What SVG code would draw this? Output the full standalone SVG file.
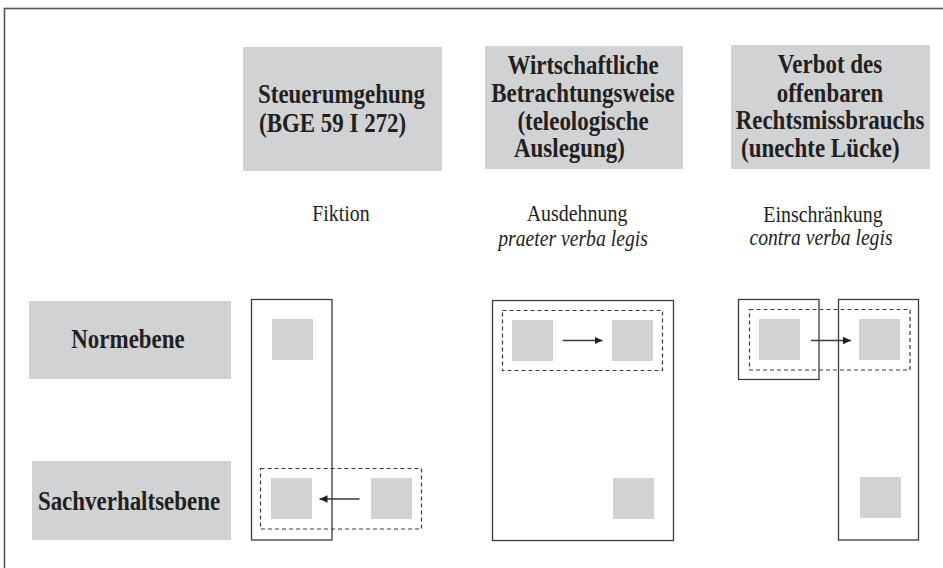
<svg xmlns="http://www.w3.org/2000/svg" width="943" height="568" viewBox="0 0 943 568">
  <style>
    text { font-family: "Liberation Serif", "Times New Roman", serif; fill: #231f20; }
    .h { font-size: 27px; font-weight: bold; }
    .s { font-size: 24px; }
    .i { font-size: 24px; font-style: italic; }
    .c { text-anchor: middle; }
    .box { fill: #d1d2d4; }
    .frame { fill: none; stroke: #3a3a3a; stroke-width: 1.3; }
    .dash { fill: none; stroke: #3a3a3a; stroke-width: 1.2; stroke-dasharray: 4 3; }
    .conn { stroke: #3a3a3a; stroke-width: 1.3; fill: none; marker-end: url(#ah); }
  </style>
  <defs>
    <marker id="ah" viewBox="0 0 8 8" refX="8" refY="4" markerWidth="8" markerHeight="8" markerUnits="userSpaceOnUse" orient="auto">
      <path d="M0,0.3 L8,4 L0,7.7 Z" fill="#231f20"/>
    </marker>
  </defs>
  <rect width="943" height="568" fill="#ffffff"/>
  <rect x="4.5" y="8.5" width="960" height="600" fill="none" stroke="#555" stroke-width="1.6"/>

  <g id="head-steuerumgehung">
    <rect class="box" x="243" y="47" width="199" height="124"/>
    <text class="h" transform="matrix(0.85 0 0 1 258 103)">Steuerumgehung</text>
    <text class="h" transform="matrix(0.85 0 0 1 259 132)">(BGE 59 I 272)</text>
  </g>
  <g id="head-wirtschaftlich">
    <rect class="box" x="485" y="46" width="198" height="123"/>
    <text class="h c" transform="matrix(0.85 0 0 1 583 74)">Wirtschaftliche</text>
    <text class="h c" transform="matrix(0.85 0 0 1 583 102)">Betrachtungsweise</text>
    <text class="h c" transform="matrix(0.85 0 0 1 583 130)">(teleologische</text>
    <text class="h" transform="matrix(0.85 0 0 1 514 157)">Auslegung)</text>
  </g>
  <g id="head-verbot">
    <rect class="box" x="731" y="45" width="199" height="124"/>
    <text class="h c" transform="matrix(0.85 0 0 1 830 73)">Verbot des</text>
    <text class="h c" transform="matrix(0.85 0 0 1 830 102)">offenbaren</text>
    <text class="h c" transform="matrix(0.85 0 0 1 830 129)">Rechtsmissbrauchs</text>
    <text class="h" transform="matrix(0.85 0 0 1 741 157)">(unechte Lücke)</text>
  </g>

  <g id="sub-fiktion">
    <text class="s c" transform="matrix(0.83 0 0 1 341 221)">Fiktion</text>
  </g>
  <g id="sub-ausdehnung">
    <text class="s c" transform="matrix(0.83 0 0 1 577 221)">Ausdehnung</text>
    <text class="i c" transform="matrix(0.82 0 0 1 573 246)">praeter verba legis</text>
  </g>
  <g id="sub-einschraenkung">
    <text class="s c" transform="matrix(0.83 0 0 1 823 222)">Einschränkung</text>
    <text class="i c" transform="matrix(0.82 0 0 1 821 245)">contra verba legis</text>
  </g>

  <g id="row-normebene">
    <rect class="box" x="29" y="301" width="202" height="78"/>
    <text class="h c" transform="matrix(0.85 0 0 1 128 348)">Normebene</text>
  </g>
  <g id="row-sachverhaltsebene">
    <rect class="box" x="32" y="461" width="199" height="79"/>
    <text class="h c" transform="matrix(0.85 0 0 1 129 510)">Sachverhaltsebene</text>
  </g>

  <g id="col1">
    <rect class="frame" x="251.5" y="299.5" width="80.5" height="240.5"/>
    <rect class="dash" x="260.5" y="468.5" width="161" height="60.5"/>
    <rect id="col1-norm" class="box" x="272" y="319" width="41" height="41"/>
    <rect id="col1-sv-a" class="box" x="271" y="478" width="41" height="41"/>
    <rect id="col1-sv-b" class="box" x="371" y="478" width="41" height="41"/>
  </g>
  <g id="col2">
    <rect class="frame" x="492.5" y="300.5" width="181" height="240"/>
    <rect class="dash" x="502.5" y="310.5" width="160" height="60"/>
    <rect id="col2-norm-a" class="box" x="512" y="320" width="41" height="41"/>
    <rect id="col2-norm-b" class="box" x="612" y="320" width="41" height="41"/>
    <rect id="col2-sv" class="box" x="613" y="478" width="41" height="41"/>
  </g>
  <g id="col3">
    <rect class="frame" x="738.5" y="299.5" width="80.5" height="80"/>
    <rect class="frame" x="838.5" y="299.5" width="80" height="240.5"/>
    <rect class="dash" x="749.5" y="309.5" width="160.5" height="60.5"/>
    <rect id="col3-norm-a" class="box" x="759" y="319" width="41" height="41"/>
    <rect id="col3-norm-b" class="box" x="859" y="319" width="41" height="41"/>
    <rect id="col3-sv" class="box" x="860" y="477" width="41" height="41"/>
  </g>

  <g id="connectors">
    <line class="conn" x1="359.5" y1="499" x2="319.5" y2="499"/>
    <line class="conn" x1="562.5" y1="340.5" x2="602.5" y2="340.5"/>
    <line class="conn" x1="811" y1="340.5" x2="851" y2="340.5"/>
  </g>
</svg>
